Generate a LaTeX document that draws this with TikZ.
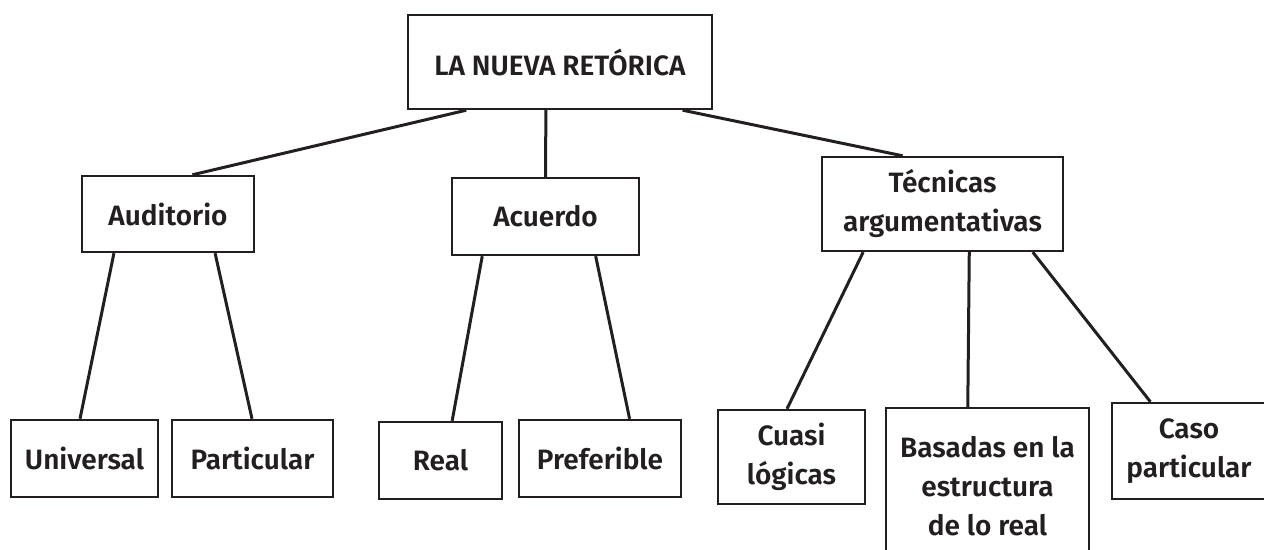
\documentclass[tikz,border=0pt]{standalone}
\usepackage{fontspec}
\setmainfont{Fira Sans}[BoldFont={Fira Sans SemiBold}]
\usepackage{tikz}
\usetikzlibrary{calc}
\definecolor{ink}{RGB}{35,31,32}
\tikzstyle{box} = [rectangle, draw=ink, line width=1.2pt, text=ink, align=center, inner sep=0pt, font=\fontsize{14}{19.5}\selectfont\bfseries]
\tikzstyle{line} = [draw=ink, line width=1.5pt]

\begin{document}
\begin{tikzpicture}[x=0.5pt, y=-0.5pt]
    \useasboundingbox (0,0) rectangle (1264,550);
    \clip (0,0) rectangle (1264,550);

    \node[box, minimum width=152pt, minimum height=47pt](top) at (560,62) {LA NUEVA RETÓRICA};

    \node[box, minimum width=86pt, minimum height=38pt](aud) at (168,214) {Auditorio};
    \node[box, minimum width=93.5pt, minimum height=38.5pt](acu) at (545.5,216.5) {Acuerdo};
    \node[box, minimum width=120.5pt, minimum height=47pt](tec) at (942.5,204) {Técnicas\\argumentativas};

    \node[box, minimum width=73.5pt, minimum height=38.5pt](uni) at (84.5,458.5) {Universal};
    \node[box, minimum width=80.5pt, minimum height=38.5pt](par) at (252.5,458.5) {Particular};
    \node[box, minimum width=61.5pt, minimum height=38.5pt](rea) at (440.5,460.5) {Real};
    \node[box, minimum width=81pt, minimum height=38.5pt](pre) at (600,458.5) {Preferible};
    \node[box, minimum width=73.5pt, minimum height=47pt](cua) at (791.5,457) {Cuasi\\lógicas};
    \node[box, minimum width=101.5pt, minimum height=78pt](bas) at (987.5,486) {Basadas en la\\estructura\\de lo real};
    \node[box, minimum width=77pt, minimum height=48pt](cas) at (1189,451) {Caso\\particular};

    % first level
    \path[line] ($(top.south west)!0.194!(top.south east)$) -- ($(aud.north west)!0.64!(aud.north east)$);
    \path[line] ($(top.south west)!0.454!(top.south east)$) -- ($(acu.north west)!0.5!(acu.north east)$);
    \path[line] ($(top.south west)!0.90!(top.south east)$) -- ($(tec.north west)!0.336!(tec.north east)$);

    % second level
    \path[line] ($(aud.south west)!0.19!(aud.south east)$) -- ($(uni.north west)!0.47!(uni.north east)$);
    \path[line] ($(aud.south west)!0.77!(aud.south east)$) -- ($(par.north west)!0.497!(par.north east)$);
    \path[line] ($(acu.south west)!0.166!(acu.south east)$) -- ($(rea.north west)!0.593!(rea.north east)$);
    \path[line] ($(acu.south west)!0.765!(acu.south east)$) -- ($(pre.north west)!0.68!(pre.north east)$);
    \path[line] ($(tec.south west)!0.174!(tec.south east)$) -- ($(cua.north west)!0.47!(cua.north east)$);
    \path[line] ($(tec.south west)!0.61!(tec.south east)$) -- ($(bas.north west)!0.404!(bas.north east)$);
    \path[line] ($(tec.south west)!0.871!(tec.south east)$) -- ($(cas.north west)!0.253!(cas.north east)$);
\end{tikzpicture}
\end{document}
